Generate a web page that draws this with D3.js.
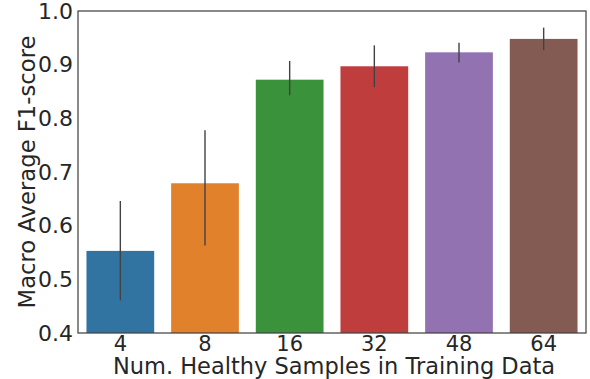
<!DOCTYPE html>
<html><head><meta charset="utf-8">
<script src="https://cdn.jsdelivr.net/npm/d3@7"></script>
<style>body{margin:0;background:#fff}svg{display:block}</style>
</head><body><svg id="c" width="590" height="379"></svg>
<script>
const categories = ["4","8","16","32","48","64"];
const values = [0.553, 0.679, 0.872, 0.897, 0.923, 0.948];
const errLow = [0.461, 0.563, 0.843, 0.858, 0.904, 0.927];
const errHigh = [0.646, 0.778, 0.907, 0.936, 0.941, 0.969];
const colors = ["#3274a1","#e1812c","#3a923a","#c03d3e","#9372b2","#845b53"];
const yTicks = [0.4,0.5,0.6,0.7,0.8,0.9,1.0];

const svg = d3.select("#c");
const m = {l:78, r:586, t:11, b:333};
const x = d3.scaleBand().domain(categories).range([m.l, m.r]).paddingInner(0.2).paddingOuter(0.1);
const y = d3.scaleLinear().domain([0.4,1.0]).range([m.b, m.t]);
const font = "DejaVu Sans, sans-serif";
const tc = "#262626";

svg.append("g").selectAll("rect").data(categories).join("rect")
  .attr("x", d=>x(d)).attr("width", x.bandwidth())
  .attr("y", (d,i)=>y(values[i])).attr("height",(d,i)=>y(0.4)-y(values[i]))
  .attr("fill",(d,i)=>colors[i]);

svg.append("g").selectAll("line").data(categories).join("line")
  .attr("x1", d=>x(d)+x.bandwidth()/2).attr("x2", d=>x(d)+x.bandwidth()/2)
  .attr("y1",(d,i)=>y(errLow[i])).attr("y2",(d,i)=>y(errHigh[i]))
  .attr("stroke","#424242").attr("stroke-width",1.4);

svg.append("rect").attr("x",m.l).attr("y",m.t).attr("width",m.r-m.l).attr("height",m.b-m.t)
  .attr("fill","none").attr("stroke","#444").attr("stroke-width",1.25);

const ya = svg.append("g").attr("transform",`translate(${m.l},0)`)
  .call(d3.axisLeft(y).tickValues(yTicks).tickFormat(d3.format(".1f")).tickSize(0).tickPadding(5));
ya.select(".domain").remove();
ya.selectAll("text").attr("font-family",font).attr("font-size","22px").attr("fill",tc);

const xa = svg.append("g").attr("transform",`translate(0,${m.b})`)
  .call(d3.axisBottom(x).tickSize(0).tickPadding(3));
xa.select(".domain").remove();
xa.selectAll("text").attr("font-family",font).attr("font-size","21px").attr("fill",tc);

svg.append("text").attr("x",(m.l+m.r)/2 + 2).attr("y",373.5).attr("text-anchor","middle")
  .attr("font-family",font).attr("font-size","22.5px").attr("fill",tc)
  .text("Num. Healthy Samples in Training Data");
svg.append("text").attr("transform",`translate(35,${(m.t+m.b)/2}) rotate(-90)`).attr("text-anchor","middle")
  .attr("font-family",font).attr("font-size","22.7px").attr("fill",tc)
  .text("Macro Average F1-score");
</script></body></html>
